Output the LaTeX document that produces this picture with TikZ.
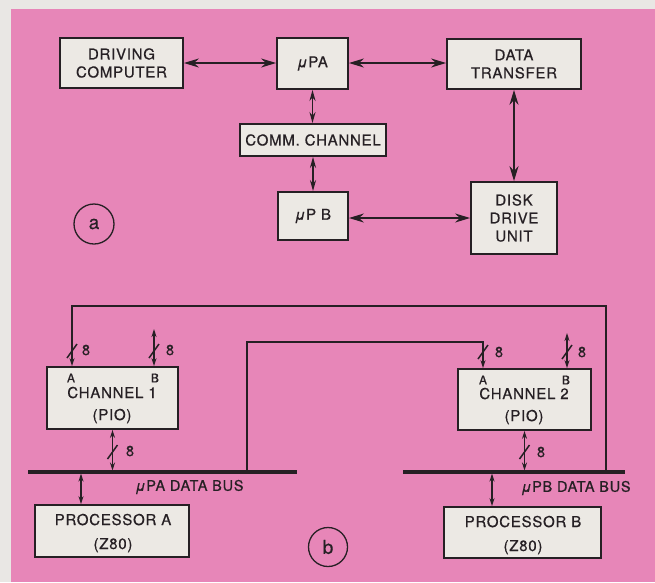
\documentclass[tikz,border=0pt]{standalone}
\usepackage{fontspec}
\setmainfont[LetterSpace=5, FakeBold=0.6]{TeX Gyre Heros}
\usetikzlibrary{arrows.meta}
\definecolor{pinkbg}{RGB}{231,134,184}
\definecolor{boxgray}{RGB}{236,233,228}
\definecolor{margin}{RGB}{233,231,228}
\definecolor{ink}{RGB}{38,32,36}

\begin{document}
\begin{tikzpicture}[x=1pt, y=-1pt]
    \tikzstyle{blk}=[draw=ink, fill=boxgray, line width=1.8pt, text=ink, align=center, inner sep=0pt, font=\fontsize{15}{18}\selectfont]
    \tikzstyle{bigarr}=[draw=ink, line width=1.8pt, {Stealth[length=15pt,width=9pt]}-{Stealth[length=15pt,width=9pt]}]
    \tikzstyle{midarr}=[draw=ink, line width=1.8pt, {Stealth[length=11pt,width=6pt]}-{Stealth[length=11pt,width=6pt]}]
    \tikzstyle{smallarr}=[draw=ink, line width=1.5pt, {Stealth[length=8pt,width=5pt]}-{Stealth[length=8pt,width=5pt]}]
    \tikzstyle{wire}=[draw=ink, line width=1.5pt]
    \tikzstyle{bus}=[draw=ink, line width=3.5pt]
    \tikzstyle{tag}=[text=ink, inner sep=0pt, font=\fontsize{14.5}{16}\selectfont]
    \tikzstyle{pin}=[text=ink, inner sep=0pt, font=\fontsize{12}{12}\selectfont]
    \tikzstyle{ring}=[draw=ink, circle, line width=1.3pt, inner sep=0pt, text=ink, font=\fontsize{19}{19}\selectfont]

    % background
    \fill[margin] (0,0) rectangle (655,582);
    \fill[pinkbg] (11,9) rectangle (655,582);
    \useasboundingbox (0,0) rectangle (655,582);

    % (a)
    \node[blk, minimum width=123pt, minimum height=50pt] (drv) at (121.5,63) {DRIVING\\COMPUTER};
    \node[blk, minimum width=71pt, minimum height=51pt] (upa) at (312.5,63.5) {\textit{μ}PA};
    \node[blk, minimum width=134pt, minimum height=50pt] (dtr) at (514,64) {DATA\\TRANSFER};
    \node[blk, minimum width=146pt, minimum height=32pt] (comm) at (313,140) {COMM. CHANNEL};
    \node[blk, minimum width=70pt, minimum height=48pt] (upb) at (313,216) {\textit{μ}P B};
    \node[blk, minimum width=86pt, minimum height=72pt] (disk) at (514,218) {DISK\\DRIVE\\UNIT};
    \node[ring, minimum size=40pt] (ra) at (94,224) {a};

    \draw[bigarr] (drv.east) -- (drv.east -| upa.west);
    \draw[bigarr] (upa.east |- 0,63) -- (dtr.west |- 0,63);
    \draw[midarr] (upa.south) -- (upa.south |- comm.north);
    \draw[midarr] (comm.south) -- (comm.south |- upb.north);
    \draw[bigarr] (dtr.south) -- (disk.north);
    \draw[bigarr] (upb.east |- disk.west) -- (disk.west);

    % (b)
    \node[blk, minimum width=131pt, minimum height=62pt] (ch1) at (112.5,398) {};
    \node[blk, minimum width=133pt, minimum height=61pt] (ch2) at (524.5,399.5) {};
    \node[blk, minimum width=154pt, minimum height=52pt] (pra) at (112,531) {};
    \node[blk, minimum width=157pt, minimum height=51pt] (prb) at (522.5,532.5) {};
    \node[tag, align=center, font=\fontsize{15}{22}\selectfont] (ch1t) at (112,405) {CHANNEL 1\\(PIO)};
    \node[tag, align=center, font=\fontsize{15}{22}\selectfont] (ch2t) at (524,406) {CHANNEL 2\\(PIO)};
    \node[tag, align=center, font=\fontsize{15}{24}\selectfont] (prat) at (113,533) {PROCESSOR A\\(Z80)};
    \node[tag, align=center, font=\fontsize{15}{24}\selectfont] (prbt) at (523,535) {PROCESSOR B\\(Z80)};
    \node[pin] (ch1pa) at (71,378) {A};
    \node[pin] (ch1pb) at (155,378) {B};
    \node[pin] (ch2pa) at (483,380) {A};
    \node[pin] (ch2pb) at (566,380) {B};
    \node[ring, minimum size=39pt] (rb) at (328,547) {b};

    \coordinate (busAl) at (28,472);
    \coordinate (busAr) at (297,472);
    \coordinate (busBl) at (403,472);
    \coordinate (busBr) at (625,472);
    \draw[bus] (busAl) -- (busAr);
    \draw[bus] (busBl) -- (busBr);
    \node[tag] (busAt) at (189.5,487) {\textit{μ}PA DATA BUS};
    \node[tag] (busBt) at (576,488) {\textit{μ}PB DATA BUS};

    % cross links
    \coordinate (loopB) at (606,472);
    \coordinate (top1) at (72,306);
    \coordinate (loopA) at (247,472);
    \coordinate (top2) at (483,342);
    \draw[wire, -{Stealth[length=8pt,width=5pt]}] (loopB) |- (top1) -- (top1 |- ch1.north);
    \draw[wire, -{Stealth[length=8pt,width=5pt]}] (loopA) |- (top2) -- (top2 |- ch2.north);

    % port B lines
    \coordinate (endB1) at (154,329);
    \coordinate (endB2) at (567,333);
    \draw[smallarr] (endB1) -- (endB1 |- ch1.north);
    \draw[smallarr] (endB2) -- (endB2 |- ch2.north);

    % to the buses
    \coordinate (bA1) at (112.5,472);
    \coordinate (bA2) at (81,472);
    \coordinate (bB1) at (524.5,472);
    \coordinate (bB2) at (492,472);
    \draw[smallarr, shorten >=1.5pt] (ch1.south) -- (bA1);
    \draw[smallarr, shorten >=1.5pt] (ch2.south) -- (bB1);
    \draw[smallarr, shorten <=1.5pt] (bA2) -- (bA2 |- pra.north);
    \draw[smallarr, shorten <=1.5pt] (bB2) -- (bB2 |- prb.north);

    % 8-bit marks
    \coordinate (s1) at (72,351);
    \coordinate (s2) at (154,351);
    \coordinate (s3) at (112.5,452);
    \coordinate (s4) at (483,352);
    \coordinate (s5) at (567,352);
    \coordinate (s6) at (524.5,452);
    \foreach \s in {s1,s2,s3,s4,s5,s6}
        \draw[wire] (\s) ++(-5,7) -- ++(10,-14);
    \node[tag] (w1) at (86,350) {8};
    \node[tag] (w2) at (170,350) {8};
    \node[tag] (w3) at (130,451) {8};
    \node[tag] (w4) at (499,352) {8};
    \node[tag] (w5) at (582,352) {8};
    \node[tag] (w6) at (541,452) {8};
\end{tikzpicture}
\end{document}
